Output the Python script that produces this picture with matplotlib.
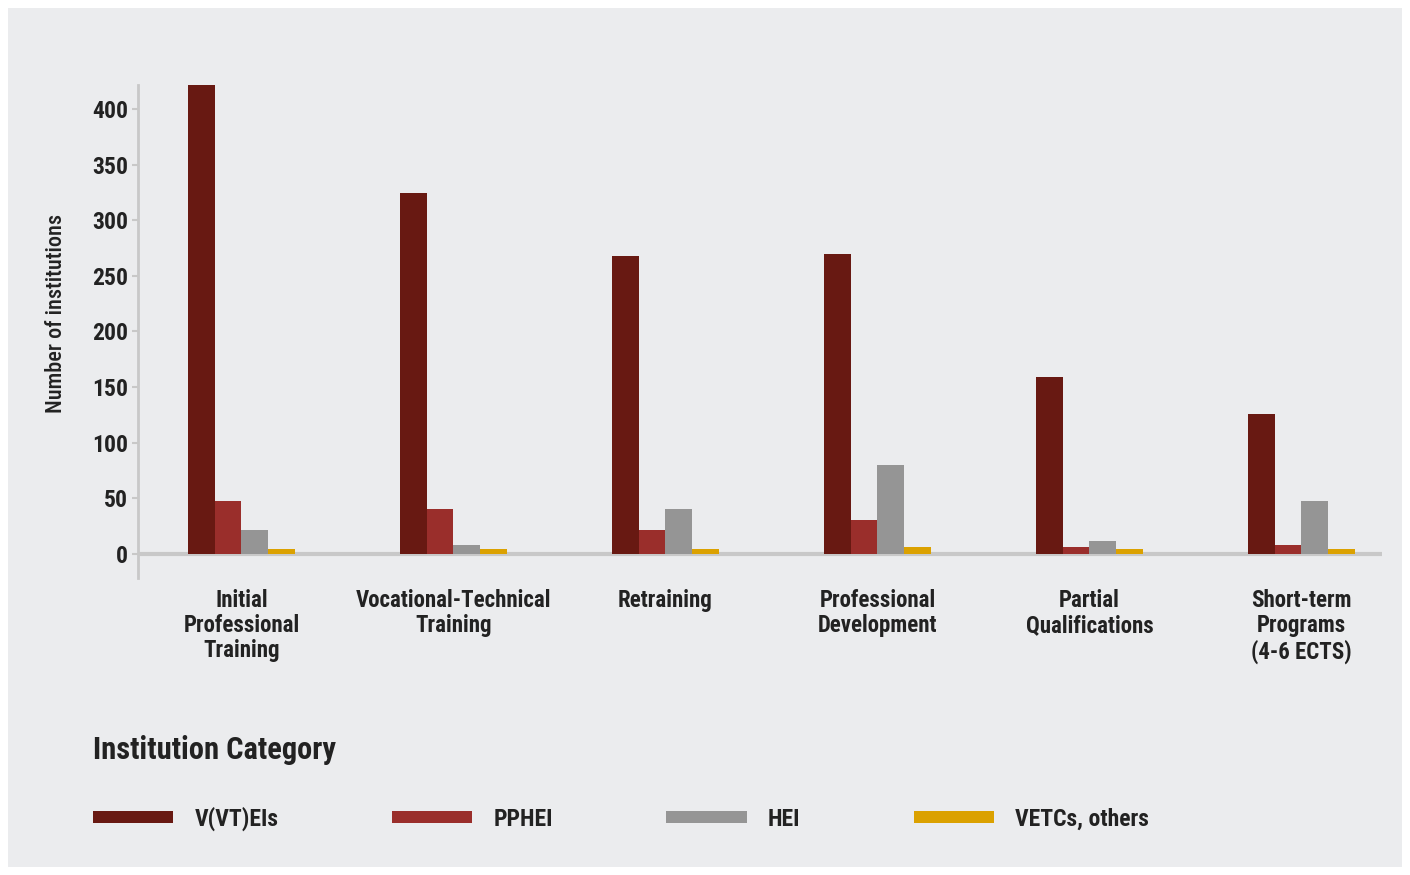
import numpy as np
import matplotlib
matplotlib.use("Agg")
import matplotlib.pyplot as plt
from matplotlib import font_manager
from matplotlib.patches import Rectangle

# Datos
categorias = ["Initial\nProfessional\nTraining", "Vocational-Technical\nTraining", "Retraining",
              "Professional\nDevelopment", "Partial\nQualifications", "Short-term\nPrograms\n(4-6 ECTS)"]
series = ["V(VT)EIs", "PPHEI", "HEI", "VETCs, others"]
v_vt_eis = [422, 325, 268, 270, 159, 126]
pphei = [47, 40, 21, 30, 6, 8]
hei = [21, 8, 40, 80, 11, 47]
vetcs = [4, 4, 4, 6, 4, 4]
valores = [v_vt_eis, pphei, hei, vetcs]
colores = ["#681912", "#9a2e2b", "#959595", "#dba100"]

# Fuente estrecha si existe
nombres = {f.name for f in font_manager.fontManager.ttflist}
fuente = "DejaVu Sans"
for f in ["Liberation Sans Narrow", "Roboto Condensed", "Arial Narrow", "Roboto"]:
    if f in nombres:
        fuente = f
        break
plt.rcParams['font.family'] = [fuente, 'DejaVu Sans']
texto = "#222222"

fig = plt.figure(figsize=(14.1, 8.75), dpi=100, facecolor="white")
fig.patches.append(Rectangle((8 / 1410, 8 / 875), 1394 / 1410, 859 / 875,
                             transform=fig.transFigure, facecolor="#ebecee",
                             edgecolor="none", zorder=-10))

ax = fig.add_axes([138 / 1410, 1 - 578 / 875, 1244 / 1410, 493 / 875])
ax.set_facecolor("none")

x = np.arange(len(categorias))
ancho = 0.127
for i, (nombre, vals, c) in enumerate(zip(series, valores, colores)):
    ax.bar(x + (i - 1.5) * ancho, vals, ancho, color=c, label=nombre, zorder=2)

ax.axhline(0, color="#c8c8c8", lw=3, zorder=1)
ax.set_xlim(-0.488, 5.38)
ax.set_ylim(-22, 422)

for s in ["top", "right", "bottom"]:
    ax.spines[s].set_visible(False)
ax.spines["left"].set_color("#c8c8c8")
ax.spines["left"].set_linewidth(2)

ax.set_yticks(np.arange(0, 401, 50))
ax.tick_params(axis="y", length=4, width=1.5, color="#c8c8c8", pad=3,
               labelsize=17, labelcolor=texto)
for t in ax.get_yticklabels():
    t.set_fontweight("bold")

ax.set_xticks(x)
ax.set_xticklabels(categorias, fontsize=16.5, fontweight="bold", color=texto, linespacing=1.12)
ax.tick_params(axis="x", length=0, pad=8)

ax.set_ylabel("Number of institutions", fontsize=16, fontweight="medium", color=texto)
ax.yaxis.set_label_coords(-0.057, 0.537)

# Leyenda
fig.text(93 / 1410, 1 - 750 / 875, "Institution Category", fontsize=22, fontweight="bold",
         color=texto, va="center", ha="left")
handles, labels = ax.get_legend_handles_labels()
leg = fig.legend(handles, labels, loc="center left", bbox_to_anchor=(93 / 1410, 1 - 819 / 875),
                 ncol=4, frameon=False, borderpad=0, borderaxespad=0,
                 handlelength=3.4, handleheight=0.4, handletextpad=0.9, columnspacing=4.8,
                 prop={"size": 17, "weight": "bold"})
for t in leg.get_texts():
    t.set_color(texto)

fig.savefig("out.png", dpi=100, facecolor="white")
